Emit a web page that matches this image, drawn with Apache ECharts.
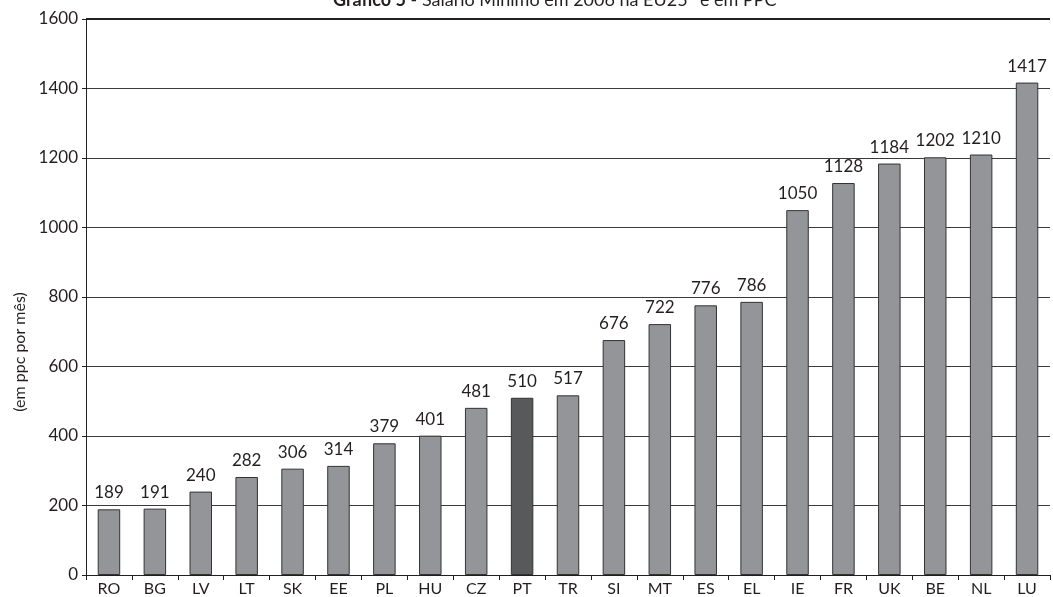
<!DOCTYPE html>
<html>
<head>
<meta charset="utf-8">
<script src="https://cdn.jsdelivr.net/npm/echarts@6/dist/echarts.min.js"></script>
<style>
html,body{margin:0;padding:0;background:#fff;}
#chart{width:1053px;height:597px;}
</style>
</head>
<body>
<div id="chart"></div>
<script>
const categories = ['RO','BG','LV','LT','SK','EE','PL','HU','CZ','PT','TR','SI','MT','ES','EL','IE','FR','UK','BE','NL','LU'];
const values = [189,191,240,282,306,314,379,401,481,510,517,676,722,776,786,1050,1128,1184,1202,1210,1417];
const highlight = 'PT';
const yTicks = {min:0, max:1600, interval:200};

const FONT = 'Lato';
const chart = echarts.init(document.getElementById('chart'), null, {renderer:'canvas'});
const data = values.map((v,i)=>({
  value:v,
  itemStyle:{color: categories[i]===highlight ? '#58595b' : '#939598'}
}));
chart.setOption({
  animation:false,
  backgroundColor:'#fff',
  title:{
    text:'{b|Gráfico 5} - Salário Mínimo em 2006 na EU25* e em PPC',
    left:328, top:-14,
    textStyle:{
      fontFamily:FONT, fontSize:18, fontWeight:'normal', color:'#231f20',
      rich:{b:{fontFamily:FONT, fontSize:18, fontWeight:'bold', color:'#231f20'}}
    }
  },
  grid:{left:86, right:3, top:19, bottom:21, containLabel:false},
  xAxis:{
    type:'category', data:categories,
    axisLine:{lineStyle:{color:'#231f20', width:1}},
    axisTick:{show:true, length:5, alignWithLabel:false, lineStyle:{color:'#231f20'}},
    axisLabel:{fontFamily:FONT, fontSize:16, color:'#231f20', margin:6, interval:0}
  },
  yAxis:{
    type:'value', min:yTicks.min, max:yTicks.max, interval:yTicks.interval,
    axisLine:{show:true, lineStyle:{color:'#231f20', width:1}},
    axisTick:{show:true, length:4, lineStyle:{color:'#231f20'}},
    axisLabel:{fontFamily:FONT, fontSize:17, color:'#231f20', margin:8, formatter:(v)=>String(v)},
    splitLine:{show:true, lineStyle:{color:'#3a3a3a', width:1}}
  },
  graphic:[{
    type:'text', x:20, y:352, rotation:Math.PI/2,
    style:{text:'(em ppc por mês)', fontFamily:FONT, fontSize:16, fill:'#231f20', textAlign:'center', textVerticalAlign:'middle'}
  }],
  series:[{
    type:'bar', data:data, barWidth:'49%',
    itemStyle:{borderColor:'#333333', borderWidth:1},
    label:{show:true, position:'top', distance:8, fontFamily:FONT, fontSize:17, color:'#231f20'},
    markLine:{
      silent:true, symbol:'none', label:{show:false},
      lineStyle:{color:'#231f20', width:2, type:'solid'},
      data:[{yAxis:yTicks.max}]
    }
  }]
});
</script>
</body>
</html>
